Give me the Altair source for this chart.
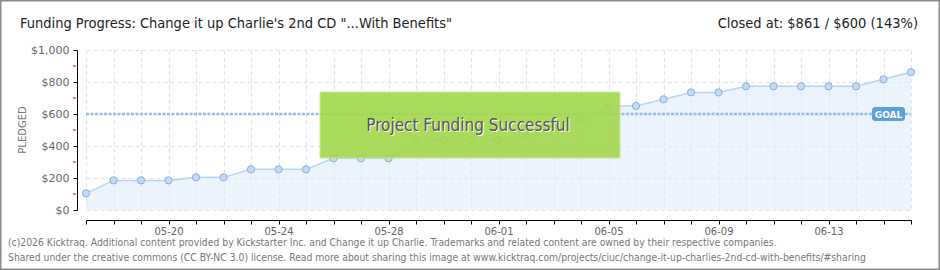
import json
import altair as alt
import pandas as pd

# ---- data ----
dates = ['05-17', '05-18', '05-19', '05-20', '05-21', '05-22', '05-23', '05-24',
         '05-25', '05-26', '05-27', '05-28', '05-29', '05-30', '05-31', '06-01',
         '06-02', '06-03', '06-04', '06-05', '06-06', '06-07', '06-08', '06-09',
         '06-10', '06-11', '06-12', '06-13', '06-14', '06-15', '06-16']
pledged = [104, 185, 185, 185, 204, 204, 254, 254, 254, 323, 323, 323, 431, 437,
           437, 437, 462, 510, 567, 650, 650, 692, 735, 735, 773, 773, 773, 773,
           773, 817, 861]
goal = [600]
y_ticks = [0, 200, 400, 600, 800, 1000]
y_minor_ticks = [100, 300, 500, 700, 900]

title_text = "Funding Progress: Change it up Charlie's 2nd CD \"...With Benefits\""
closed_text = "Closed at:  $861 / $600 (143%)"
footer1 = ("(c)2026 Kicktraq. Additional content provided by Kickstarter Inc. and Change it up Charlie. "
           "Trademarks and related content are owned by their respective companies.")
footer2 = ("Shared under the creative commons (CC BY-NC 3.0) license. Read more about sharing this image at "
           "www.kicktraq.com/projects/ciuc/change-it-up-charlies-2nd-cd-with-benefits/#sharing")

df = pd.DataFrame({"day": list(range(len(dates))), "date": dates, "pledged": pledged})

W, H = 825, 160
PL, PT = 86, 50
FONT = "DejaVu Sans"
CFONT = "DejaVu Sans Condensed"

label_expr = f"datum.value % 4 == 3 ? {json.dumps(dates)}[datum.value] : ''"

x_axis = alt.Axis(values=list(range(len(dates))), labelExpr=label_expr, grid=True,
                  gridDash=[4, 3], gridColor="#e2e2e2", domainColor="#000", tickColor="#000",
                  tickSize=4, offset=10, labelPadding=2, labelFontSize=10, labelColor="#666",
                  labelFont=FONT, title=None, labelFlush=False, labelOverlap=False)
y_axis = alt.Axis(values=y_ticks, format="$,.0f", grid=True, gridDash=[4, 3],
                  gridColor="#e2e2e2", domainColor="#000", tickColor="#000", tickSize=4,
                  offset=9, labelPadding=4, labelFontSize=11, labelColor="#666",
                  labelFont=FONT, title=None)
x_scale = alt.Scale(domain=[0, len(dates) - 1], nice=False, zero=False)
y_scale = alt.Scale(domain=[0, 1000], nice=False)

X = alt.X("day:Q", scale=x_scale, axis=x_axis)
Y = alt.Y("pledged:Q", scale=y_scale, axis=y_axis)

base = alt.Chart(df)
area = base.mark_area(color="#dbe9fb", opacity=0.55).encode(x=X, y=Y)
line = base.mark_line(color="#b7d3f1", strokeWidth=1.5).encode(x=X, y=Y)
pts = base.mark_point(filled=True, fill="#c3dbf6", stroke="#8cafd9", strokeWidth=1,
                      size=52, opacity=1).encode(x=X, y=Y)

goal_df = pd.DataFrame({"pledged": goal})
goal_rule = alt.Chart(goal_df).mark_rule(color="#98bbe2", strokeWidth=2.5,
                                         strokeDash=[3, 1.5]).encode(
    y=Y, x=alt.value(0), x2=alt.value(W))

minor_df = pd.DataFrame({"pledged": y_minor_ticks})
minor = alt.Chart(minor_df).mark_rule(color="#e00000", strokeWidth=1).encode(
    y=Y, x=alt.value(-13), x2=alt.value(-10))

goal_box = alt.Chart(goal_df).mark_rect(color="#5e9edb", cornerRadius=3).encode(
    x=alt.value(872 - PL), x2=alt.value(905 - PL), y=alt.value(107 - PT), y2=alt.value(121 - PT))
goal_txt = alt.Chart(goal_df).mark_text(color="white", fontSize=9, font=FONT, fontWeight="bold",
                                        baseline="middle", align="center").encode(
    x=alt.value(888.5 - PL), y=alt.value(114.5 - PT), text=alt.value("GOAL"))

green = alt.Chart(goal_df).mark_rect(color="#a3d84c", opacity=0.9,
                                     stroke="#c6e78f", strokeWidth=1).encode(
    x=alt.value(320 - PL), x2=alt.value(620 - PL), y=alt.value(92 - PT), y2=alt.value(158 - PT))
succ_shadow = alt.Chart(goal_df).mark_text(color="white", fontSize=17, font=CFONT,
                                           baseline="middle", align="center").encode(
    x=alt.value(469 - PL), y=alt.value(127 - PT), text=alt.value("Project Funding Successful"))
succ = alt.Chart(goal_df).mark_text(color="#555", fontSize=17, font=CFONT,
                                    baseline="middle", align="center").encode(
    x=alt.value(468 - PL), y=alt.value(126 - PT), text=alt.value("Project Funding Successful"))


def txt(s, x, y, size, color="#222", align="left", baseline="alphabetic", angle=0, font=CFONT):
    kw = dict(color=color, fontSize=size, font=font, align=align, baseline=baseline)
    if angle:
        kw["angle"] = angle
    return alt.Chart(goal_df).mark_text(**kw).encode(
        x=alt.value(x - PL), y=alt.value(y - PT), text=alt.value(s))


title = txt(title_text, 20, 28, 14.5)
closed = txt(closed_text, 918, 28, 14.5, align="right")
ytitle = txt("PLEDGED", 23, 130, 10, color="#777", align="center", baseline="middle",
             angle=270, font=FONT)
f1 = txt(footer1, 8, 246, 10.3, color="#777")
f2 = txt(footer2, 8, 261, 10.3, color="#777")

border = alt.Chart(goal_df).mark_rect(fill=None, stroke="#8a8a8a", strokeWidth=1.5).encode(
    x=alt.value(-PL + 0.75), x2=alt.value(940 - PL - 0.75),
    y=alt.value(-PT + 0.75), y2=alt.value(270 - PT - 0.75))

chart = alt.layer(area, goal_rule, line, pts, minor, green, succ_shadow, succ,
                  goal_box, goal_txt, title, closed, ytitle, f1, f2, border).properties(
    width=W, height=H,
    autosize=alt.AutoSizeParams(type="none"),
    padding={"left": PL, "top": PT, "right": 940 - PL - W, "bottom": 270 - PT - H},
    background="white",
).configure_view(strokeWidth=0)

chart.save("out.html", embed_options={"renderer": "svg", "actions": False})
